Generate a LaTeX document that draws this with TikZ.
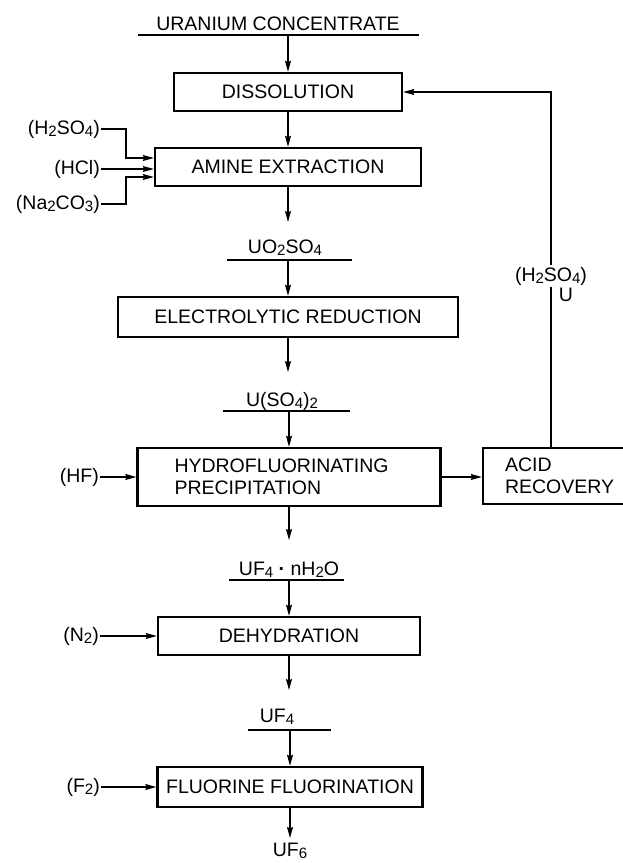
\documentclass[tikz,border=0pt]{standalone}
\usepackage{fontspec}
\setmainfont{Liberation Sans}
\usetikzlibrary{arrows.meta}
\newcommand{\dn}[1]{\raisebox{-0.25ex}{\fontsize{15}{15}\selectfont #1}}
\begin{document}
\begin{tikzpicture}[x=1pt,y=1pt,
  font=\fontsize{19.5}{22}\selectfont,
  proc/.style={draw,line width=2.4pt,minimum height=38pt,inner sep=0pt,align=center},
  lbl/.style={inner sep=0pt,anchor=base},
  inl/.style={inner sep=1pt,anchor=east},
  flow/.style={line width=1.4pt,-{Stealth[length=11pt,width=6pt,inset=1.5pt]}},
  plain/.style={line width=1.4pt},
  ul/.style={line width=1.5pt}]
\useasboundingbox (0,0) rectangle (623,-863);

% process boxes
\node[proc,minimum width=228] (dis) at (288,-92) {DISSOLUTION};
\node[proc,minimum width=266] (ami) at (288,-167) {AMINE EXTRACTION};
\node[proc,minimum width=340,minimum height=40] (ele) at (288,-317) {ELECTROLYTIC REDUCTION};
\node[proc,minimum width=303,minimum height=58,text width=229,align=left] (hfp) at (289,-477) {HYDROFLUORINATING\\PRECIPITATION};
\node[proc,minimum width=160,minimum height=56,text width=116,align=left] (acid) at (563,-476) {ACID\\RECOVERY};
\node[proc,minimum width=262] (deh) at (289,-636) {DEHYDRATION};
\node[proc,minimum width=265,minimum height=40] (flu) at (290,-787) {FLUORINE FLUORINATION};

% stream labels with underlines
\node[lbl] (uc) at (278,-30) {URANIUM CONCENTRATE};
\coordinate (ucl) at (138,-35); \coordinate (ucr) at (419,-35);
\draw[ul] (ucl) -- (ucr);
\node[lbl] (uo) at (285,-253) {UO\dn{2}SO\dn{4}};
\coordinate (uol) at (227,-260); \coordinate (uor) at (352,-260);
\draw[ul] (uol) -- (uor);
\node[lbl] (us) at (282,-406) {U(SO\dn{4})\dn{2}};
\coordinate (usl) at (223,-411); \coordinate (usr) at (350,-411);
\draw[ul] (usl) -- (usr);
\node[lbl] (uf) at (289,-575) {UF\dn{4} \textbf{·} nH\dn{2}O};
\coordinate (ufl) at (229,-580); \coordinate (ufr) at (344,-580);
\draw[ul] (ufl) -- (ufr);
\node[lbl] (u4) at (277,-722) {UF\dn{4}};
\coordinate (u4l) at (248,-730); \coordinate (u4r) at (331,-730);
\draw[ul] (u4l) -- (u4r);
\node[lbl] (u6) at (290,-856) {UF\dn{6}};

% main column arrows
\coordinate (ucb) at (288,-35);
\draw[flow] (ucb) -- (dis.north);
\draw[flow] (dis.south) -- (ami.north);
\coordinate (a1) at (288,-222);
\draw[flow] (ami.south) -- (a1);
\coordinate (uob) at (288,-260);
\draw[flow] (uob) -- (ele.north);
\coordinate (a2) at (288,-372);
\draw[flow] (ele.south) -- (a2);
\coordinate (usb) at (289,-411);
\draw[flow] (usb) -- (hfp.north);
\coordinate (a3) at (289,-540);
\draw[flow] (hfp.south) -- (a3);
\coordinate (ufb) at (289,-580);
\draw[flow] (ufb) -- (deh.north);
\coordinate (a4) at (289,-690);
\draw[flow] (deh.south) -- (a4);
\coordinate (u4b) at (290,-730);
\draw[flow] (u4b) -- (flu.north);
\coordinate (a5) at (290,-838);
\draw[flow] (flu.south) -- (a5);

% side inputs
\node[inl] (h2l) at (101,-129) {(H\dn{2}SO\dn{4})};
\node[inl] (hcl) at (101,-169) {(HCl)};
\node[inl] (nal) at (101,-204) {(Na\dn{2}CO\dn{3})};
\draw[flow] (h2l.east) -- ++(25,0) |- ([yshift=9pt]ami.west);
\draw[flow] (hcl.east) -- (hcl.east -| ami.west);
\draw[flow] (nal.east) -- ++(25,0) |- ([yshift=-10pt]ami.west);

\node[inl] (hfl) at (100,-477) {(HF)};
\draw[flow] (hfl.east) -- (hfl.east -| hfp.west);
\node[inl] (n2l) at (100,-636) {(N\dn{2})};
\draw[flow] (n2l.east) -- (n2l.east -| deh.west);
\node[inl] (f2l) at (101,-787) {(F\dn{2})};
\draw[flow] (f2l.east) -- (f2l.east -| flu.west);

% acid recovery loop
\draw[flow] (hfp.east) -- (hfp.east -| acid.west);
\node[inner sep=1.5pt] (h2r) at (551,-276) {(H\dn{2}SO\dn{4})};
\node[inner sep=0pt] (ur) at (566,-295) {U};
\draw[plain] (h2r.south |- acid.north) -- (h2r.south);
\draw[flow] (h2r.north) |- (dis.east);
\end{tikzpicture}
\end{document}
